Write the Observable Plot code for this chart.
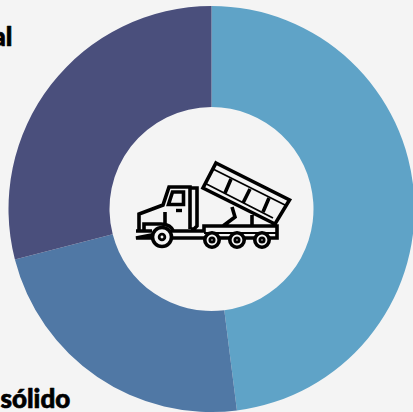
<!doctype html>
<html><head><meta charset="utf-8">
<style>html,body{margin:0;padding:0;background:#f4f4f4;overflow:hidden}svg{display:block}</style>
<script src="https://cdn.jsdelivr.net/npm/d3@7"></script>
<script src="https://cdn.jsdelivr.net/npm/@observablehq/plot@0.6"></script>
</head><body><script>
const categories = ["A", "B", "C"];
const shares = [48, 23, 29];
const sliceColors = ["#5fa3c7", "#5078a5", "#4a4f7c"];
const topLabel = ["al"];
const bottomLabel = ["sólido"];
const slices = categories.map((c, i) => ({category: c, share: shares[i]}));

const truckHeavy = [
  "M139 230V214L163 205L169 187H190V229",
  "M191 188H197V226L194 229H191",
  "M172.500 192H183.500V204.500H168.500Z",
  "M165 212V223",
  "M144 230V224H161C168 224 172 227 174 232",
  "M136 231H152M172 231H204V226H277V238H136Z",
  "M216 163L289.500 200L275 224L203 188Z",
  "M231 179L225 193M250 189L243 203M269 198L263 212",
  "M232 207L235 217L223 226M252 215V226"
].join("");
const truckThin = "M214 169.500L286 205.500M206.500 184L273 218M204 233H276";

function donut(index, scales) {
  const g = d3.create("svg:g").attr("transform", "translate(211.5,209)");
  const arcs = d3.pie().sort(null).value(d => d.share)(slices);
  const arc = d3.arc().innerRadius(102).outerRadius(203);
  g.selectAll("path").data(arcs).join("path")
    .attr("d", arc).attr("fill", d => scales.color(d.data.category));
  return g.node();
}
function icon() {
  const g = d3.create("svg:g");
  g.append("path").attr("d", truckHeavy).attr("fill", "none").attr("stroke", "#000")
    .attr("stroke-width", 3.6);
  g.append("path").attr("d", truckThin).attr("fill", "none").attr("stroke", "#000")
    .attr("stroke-width", 1.8);
  g.append("path").attr("d", "M176 210.500H182").attr("stroke", "#000").attr("stroke-width", 3.4);
  for (const [x, y, r] of [[162,237,9.5],[212,240,7.2],[237,240,7.2],[262,240,7.2]]) {
    g.append("circle").attr("cx", x).attr("cy", y).attr("r", r).attr("fill", "#f4f4f4").attr("stroke", "#000").attr("stroke-width", 3.6);
    g.append("circle").attr("cx", x).attr("cy", y).attr("r", r * 0.3).attr("fill", "#f4f4f4").attr("stroke", "#000").attr("stroke-width", 2.8);
  }
  return g.node();
}
const font = {fontFamily: "Lato", fontWeight: 900, fontSize: 26, fill: "#000", stroke: "#000", strokeWidth: 0.7, textAnchor: "start", lineAnchor: "bottom"};
const chart = Plot.plot({
  width: 413, height: 412, margin: 0,
  style: {background: "#f4f4f4"},
  color: {domain: categories, range: sliceColors},
  x: {axis: null}, y: {axis: null},
  marks: [
    donut, icon,
    Plot.text(topLabel, {...font, frameAnchor: "top-left", dx: -8, dy: 45}),
    Plot.text(bottomLabel, {...font, frameAnchor: "bottom-left", dx: 0, dy: -5})
  ]
});
document.body.appendChild(chart);
</script></body></html>
